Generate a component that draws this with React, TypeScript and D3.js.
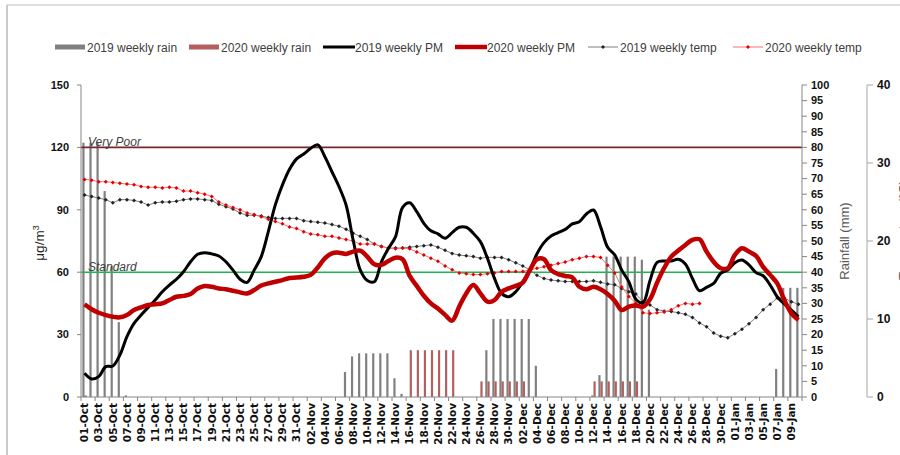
import React from 'react';
import * as d3 from 'd3';

// ---------- DATA ----------
const categories: string[] = d3
  .timeDay.range(new Date(2019, 9, 1), new Date(2020, 0, 11))
  .map(d3.timeFormat('%d-%b'));

const rain2019 = [
  81.5, 81.5, 81.5, 66, 42, 24, 0.5, 0, 0, 0,
  0, 0, 0, 0, 0, 0, 0, 0, 0, 0,
  0, 0, 0, 0, 0, 0, 0, 0, 0, 0,
  0, 0, 0, 0, 0, 0, 0, 8, 13, 14,
  14, 14, 14, 14, 6, 1, 0, 0, 0, 0,
  0, 0, 0, 0, 0, 0, 0, 15, 25, 25,
  25, 25, 25, 25, 10, 0, 0, 0, 0, 0,
  0, 0, 0.5, 7, 45, 45, 45, 45, 45, 44,
  28, 0, 0, 0, 0, 0, 0, 0, 0, 0,
  0, 0, 0, 0, 0, 0, 0, 0, 9, 35,
  35, 35,
];

const rain2020 = [
  0.5, 0, 0, 0, 0, 0, 0, 0, 0, 0,
  0, 0, 0, 0, 0, 0, 0, 0, 0, 0,
  0, 0, 0, 0, 0, 0, 0, 0, 0, 0,
  0, 0, 0, 0, 0, 0, 0, 0, 0, 0,
  0, 0, 0, 0, 0, 0, 15, 15, 15, 15,
  15, 15, 15, 0, 0, 0, 5, 5, 5, 5,
  5, 5, 5, 0, 0, 0, 0, 0, 0, 0,
  0, 0, 5, 5, 5, 5, 5, 5, 5, 0,
  0, 0, 0, 0, 0, 0, 0, 0, 0, 0,
  0, 0, 0, 0, 0, 0, 0, 0, 0, 0,
  0, 0,
];

const pm2019 = [
  11.4, 8.7, 9.8, 14.6, 14.9, 20.2, 29, 35.4, 39.4, 43.1,
  46.6, 50.6, 53.8, 56.6, 60.2, 65, 68.6, 69.4, 68.8, 67.8,
  65, 61, 56.6, 55.1, 61, 67.5, 79.5, 92.5, 102, 109.5,
  114.5, 116.8, 119.6, 121.2, 115.5, 108.3, 101.1, 92.3, 75.5, 61.1,
  56, 55.4, 65, 71.5, 77.1, 91.2, 93.4, 89.1, 83.5, 79.9,
  78.4, 76.3, 79, 81.6, 81.6, 78.7, 74.7, 66.7, 57, 49.8,
  48.2, 50.6, 55.4, 61, 68.8, 74.2, 77.4, 79, 80.6, 83.2,
  84.3, 88, 89.9, 81.9, 72, 68.3, 61, 55.4, 47, 45.3,
  56, 64.7, 65.4, 65.4, 66.2, 63.9, 57, 51.1, 52.7, 54.6,
  59.5, 61, 64.6, 65.9, 63.5, 59.8, 58.3, 53.8, 48.2, 44.7,
  41.8, 38.6,
];

const pm2020 = [
  44.6, 42.2, 40.5, 39.4, 38.6, 38.3, 39.4, 41.8, 43.1, 44.2,
  44.6, 45, 46.6, 48.2, 48.6, 49.5, 52.2, 53.4, 53, 52.2,
  51.8, 51.1, 50.3, 49.8, 51.4, 53.6, 54.6, 55.4, 56.2, 57.2,
  57.4, 57.8, 58.7, 62.3, 66.7, 69.1, 69.4, 68.8, 69.9, 70.4,
  67.5, 63.8, 63.5, 65.4, 67, 66.2, 58.2, 53.4, 48.7, 45,
  42.5, 39.5, 36.7, 43.4, 49.8, 53.8, 49.8, 45.8, 46.6, 50.6,
  52.2, 53.4, 55, 61, 66.2, 66.2, 61, 59.1, 58.2, 57.5,
  53, 51.8, 53, 51.8, 49.5, 46.3, 41.8, 43.4, 44, 43.4,
  47, 55, 62, 67.5, 70.4, 73.1, 75.5, 75.8, 69.9, 65,
  61.9, 61.9, 68.3, 71.5, 69.9, 67.8, 62.6, 58.7, 54.6, 46.6,
  40.2, 37,
];

const temp2019 = [
  25.9, 25.7, 25.5, 25.3, 24.9, 25.3, 25.3, 25.2, 25.0, 24.6,
  24.9, 25.0, 25.0, 25.1, 25.3, 25.4, 25.4, 25.3, 25.2, 24.7,
  24.4, 24.1, 23.6, 23.3, 23.3, 23.2, 23.0, 22.9, 22.9, 22.9,
  22.9, 22.6, 22.5, 22.4, 22.3, 22.1, 21.9, 21.5, 21.0, 20.6,
  20.2, 19.6, 19.3, 19.1, 19.1, 19.1, 19.2, 19.3, 19.4, 19.5,
  19.2, 18.8, 18.4, 18.2, 18.1, 18.0, 17.8, 17.9, 17.9, 17.9,
  17.6, 17.2, 16.8, 16.3, 15.6, 15.2, 15.0, 14.9, 14.8, 14.8,
  14.8, 14.8, 14.9, 14.7, 14.5, 14.4, 13.9, 13.5, 13.2, 12.2,
  11.8, 11.2, 11.0, 10.95, 10.8, 10.6, 10.2, 9.5, 9.0, 8.2,
  7.8, 7.6, 8.1, 8.7, 9.4, 10.2, 11.2, 11.9, 12.7, 12.7,
  12.2, 11.9,
];

const temp2020 = [
  27.9, 27.8, 27.6, 27.6, 27.5, 27.4, 27.3, 27.2, 27.0, 26.9,
  26.9, 26.8, 26.9, 26.8, 26.4, 26.4, 26.2, 26.0, 25.7, 25.0,
  24.6, 24.3, 24.0, 23.6, 23.4, 23.1, 22.8, 22.5, 22.2, 21.8,
  21.6, 21.2, 20.9, 20.8, 20.6, 20.6, 20.4, 20.2, 20.0, 19.6,
  19.6, 19.6, 19.3, 19.1, 19.0, 19.1, 19.0, 18.6, 18.2, 17.8,
  17.4, 16.8, 16.3, 15.9, 15.8, 15.7, 15.7, 15.8, 15.9, 16.1,
  16.1, 16.1, 16.1, 16.3, 16.5, 16.7, 16.9, 17.1, 17.3, 17.6,
  17.8, 18.0, 18.0, 17.9, 16.9, 15.9, 14.1, 12.9, 12.0, 10.8,
  10.7, 10.8, 10.9, 11.2, 11.7, 12.0, 11.9, 12.0,
];

const pmTicks = [0, 30, 60, 90, 120, 150];
const rainTicks = [0, 5, 10, 15, 20, 25, 30, 35, 40, 45, 50, 55, 60, 65, 70, 75, 80, 85, 90, 95, 100];
const tempTicks = [0, 10, 20, 30, 40];
const thresholds = [
  { value: 120, label: 'Very Poor', color: '#772a2a' },
  { value: 60, label: 'Standard', color: '#1fb451' },
];
const legendItems = [
  { label: '2019 weekly rain', kind: 'bar', color: '#808080' },
  { label: '2020 weekly rain', kind: 'bar', color: '#b35f5f' },
  { label: '2019 weekly PM', kind: 'line', color: '#000000', width: 3 },
  { label: '2020 weekly PM', kind: 'line', color: '#c00000', width: 4.5 },
  { label: '2019 weekly temp', kind: 'marker', color: '#7f7f7f', mcolor: '#222222' },
  { label: '2020 weekly temp', kind: 'marker', color: '#ff6f6f', mcolor: '#e00000' },
];
const legendX = [55, 189, 323, 455, 588, 733];

// ---------- LAYOUT ----------
const W = 900;
const H = 455;
const X0 = 81;
const X1 = 802;
const YT = 85;
const YB = 397;
const TICK_FONT = '"Liberation Sans", Arial, sans-serif';

export default function App() {
  const idx = d3.range(categories.length);
  const x = d3.scaleBand<number>().domain(idx).range([X0, X1]).paddingInner(0).paddingOuter(0);
  const bw = x.bandwidth();
  const cx = (i: number) => (x(i) as number) + bw / 2;
  const yPM = d3.scaleLinear().domain([0, 150]).range([YB, YT]);
  const yRain = d3.scaleLinear().domain([0, 100]).range([YB, YT]);
  const yTemp = d3.scaleLinear().domain([0, 40]).range([YB, YT]);

  const barW = bw * 0.31;
  const grayOff = (bw - 2 * barW) / 2;

  const pmLine = d3
    .line<number>()
    .x((_, i) => cx(i))
    .y((d) => yPM(d))
    .curve(d3.curveCatmullRom.alpha(0.5));
  const tempLine = d3
    .line<number>()
    .x((_, i) => cx(i))
    .y((d) => yTemp(d));

  const diamond = (px: number, py: number, r: number) =>
    `M${px},${py - r}L${px + r},${py}L${px},${py + r}L${px - r},${py}Z`;

  return (
    <svg
      width={W}
      height={H}
      style={{ position: 'absolute', left: 0, top: 0, background: '#fff' }}
      fontFamily={TICK_FONT}
    >
      <rect x={0} y={0} width={W} height={H} fill="#fff" />
      {/* frame */}
      <line x1={7} y1={5} x2={7} y2={H} stroke="#a6a6a6" strokeWidth={1.2} />
      <line x1={7} y1={5} x2={W} y2={5} stroke="#bdbdbd" strokeWidth={1} />

      {/* legend */}
      {legendItems.map((it, k) => {
        const lx = legendX[k];
        return (
          <g key={it.label}>
            {it.kind === 'bar' && <rect x={lx} y={44.5} width={30} height={5} fill={it.color} />}
            {it.kind === 'line' && (
              <line x1={lx} x2={lx + 32} y1={47} y2={47} stroke={it.color} strokeWidth={it.width} />
            )}
            {it.kind === 'marker' && (
              <g>
                <line x1={lx} x2={lx + 30} y1={47} y2={47} stroke={it.color} strokeWidth={1} />
                <path d={diamond(lx + 15, 47, 2)} fill={it.mcolor} />
              </g>
            )}
            <text x={lx + 32} y={51.5} fontSize={12} fill="#404040">
              {it.label}
            </text>
          </g>
        );
      })}

      {/* bars */}
      {rain2019.map((v, i) =>
        v > 0 ? (
          <rect
            key={'r19' + i}
            x={(x(i) as number) + grayOff}
            y={yRain(v)}
            width={barW}
            height={YB - yRain(v)}
            fill="#808080"
          />
        ) : null
      )}
      {rain2020.map((v, i) =>
        v > 0 ? (
          <rect
            key={'r20' + i}
            x={(x(i) as number) + grayOff + barW}
            y={yRain(v)}
            width={barW}
            height={YB - yRain(v)}
            fill="#b35f5f"
          />
        ) : null
      )}

      {/* threshold lines */}
      {thresholds.map((t) => (
        <g key={t.label}>
          <line x1={X0} x2={X1} y1={yPM(t.value)} y2={yPM(t.value)} stroke={t.color} strokeWidth={1.6} />
          <text x={88} y={yPM(t.value) - 1} fontSize={12} fontStyle="italic" fill="#404040">
            {t.label}
          </text>
        </g>
      ))}

      {/* temp lines */}
      <path d={tempLine(temp2019) || ''} fill="none" stroke="#7f7f7f" strokeWidth={1} />
      {temp2019.map((v, i) => (
        <path key={'t19' + i} d={diamond(cx(i), yTemp(v), 2)} fill="#222" />
      ))}
      <path d={tempLine(temp2020) || ''} fill="none" stroke="#ff6f6f" strokeWidth={1} />
      {temp2020.map((v, i) => (
        <path key={'t20' + i} d={diamond(cx(i), yTemp(v), 2)} fill="#e00000" />
      ))}

      {/* PM lines */}
      <path d={pmLine(pm2019) || ''} fill="none" stroke="#000" strokeWidth={3} strokeLinejoin="round" />
      <path d={pmLine(pm2020) || ''} fill="none" stroke="#c00000" strokeWidth={4.5} strokeLinejoin="round" />

      {/* left axis */}
      <line x1={X0} x2={X0} y1={YT} y2={YB} stroke="#868686" />
      {pmTicks.map((t) => (
        <g key={'pm' + t}>
          <line x1={X0 - 4} x2={X0} y1={yPM(t)} y2={yPM(t)} stroke="#868686" />
          <text x={69} y={yPM(t)} dy="0.35em" textAnchor="end" fontSize={11} fontWeight="bold" fill="#111">
            {t}
          </text>
        </g>
      ))}
      <text transform={`translate(44,243) rotate(-90)`} textAnchor="middle" fontSize={13.5} fill="#222">
        μg/m<tspan dy={-5} fontSize={9}>3</tspan>
      </text>

      {/* rainfall axis */}
      <line x1={X1} x2={X1} y1={YT} y2={YB} stroke="#868686" />
      {rainTicks.map((t) => (
        <g key={'rn' + t}>
          <line x1={X1} x2={X1 + 5} y1={yRain(t)} y2={yRain(t)} stroke="#868686" />
          <text x={811} y={yRain(t)} dy="0.35em" fontSize={11} fontWeight="bold" fill="#111">
            {t}
          </text>
        </g>
      ))}
      <text transform={`translate(849,241) rotate(-90)`} textAnchor="middle" fontSize={13} fill="#595959">
        Rainfall (mm)
      </text>

      {/* temp axis */}
      <line x1={867} x2={867} y1={YT} y2={YB} stroke="#a6a6a6" />
      {tempTicks.map((t) => (
        <g key={'tp' + t}>
          <line x1={867} x2={873} y1={yTemp(t)} y2={yTemp(t)} stroke="#a6a6a6" />
          <text x={877} y={yTemp(t)} dy="0.35em" fontSize={12} fontWeight="bold" fill="#111">
            {t}
          </text>
        </g>
      ))}
      <text transform={`translate(908,230) rotate(-90)`} textAnchor="middle" fontSize={13} fill="#595959">
        Temperature (°C)
      </text>

      {/* x axis */}
      <line x1={X0} x2={X1} y1={YB} y2={YB} stroke="#868686" />
      {idx
        .filter((i) => i % 2 === 0)
        .map((i) => (
          <line key={'xt' + i} x1={x(i) as number} x2={x(i) as number} y1={YB} y2={YB + 4} stroke="#868686" />
        ))}
      <line x1={X1} x2={X1} y1={YB} y2={YB + 4} stroke="#868686" />
      {idx
        .filter((i) => i % 2 === 0)
        .map((i) => (
          <text
            key={'xl' + i}
            transform={`translate(${cx(i) + 3.8},403) rotate(-90)`}
            textAnchor="end"
            fontSize={10.5}
            fontWeight="bold"
            fontFamily='"DejaVu Sans", sans-serif'
            fill="#111"
          >
            {categories[i]}
          </text>
        ))}
    </svg>
  );
}
